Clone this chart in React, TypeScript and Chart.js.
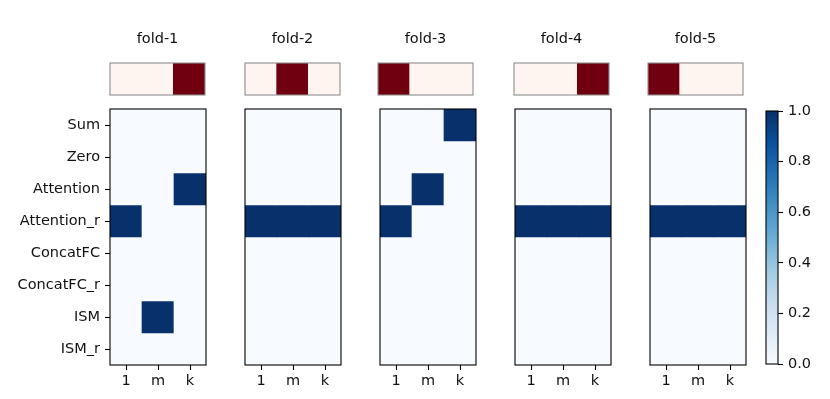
import React, { useEffect, useRef } from 'react';
import { Chart, registerables } from 'chart.js';
Chart.register(...registerables);

const rowLabels = ['Sum', 'Zero', 'Attention', 'Attention_r', 'ConcatFC', 'ConcatFC_r', 'ISM', 'ISM_r'];
const colLabels = ['1', 'm', 'k'];
const foldTitles = ['fold-1', 'fold-2', 'fold-3', 'fold-4', 'fold-5'];

const fold1 = [[0, 0, 0], [0, 0, 0], [0, 0, 1], [1, 0, 0], [0, 0, 0], [0, 0, 0], [0, 1, 0], [0, 0, 0]];
const fold2 = [[0, 0, 0], [0, 0, 0], [0, 0, 0], [1, 1, 1], [0, 0, 0], [0, 0, 0], [0, 0, 0], [0, 0, 0]];
const fold3 = [[0, 0, 1], [0, 0, 0], [0, 1, 0], [1, 0, 0], [0, 0, 0], [0, 0, 0], [0, 0, 0], [0, 0, 0]];
const fold4 = [[0, 0, 0], [0, 0, 0], [0, 0, 0], [1, 1, 1], [0, 0, 0], [0, 0, 0], [0, 0, 0], [0, 0, 0]];
const fold5 = [[0, 0, 0], [0, 0, 0], [0, 0, 0], [1, 1, 1], [0, 0, 0], [0, 0, 0], [0, 0, 0], [0, 0, 0]];
const foldMatrices = [fold1, fold2, fold3, fold4, fold5];

const strip1 = [0, 0, 1];
const strip2 = [0, 1, 0];
const strip3 = [1, 0, 0];
const strip4 = [0, 0, 1];
const strip5 = [1, 0, 0];
const strips = [strip1, strip2, strip3, strip4, strip5];

const colorbarMin = 0;
const colorbarMax = 1;
const colorbarStep = 0.2;

const BLUES = ['#f7fbff', '#deebf7', '#c6dbef', '#9ecae1', '#6baed6', '#4292c6', '#2171b5', '#08519c', '#08306b'];
const REDS = ['#fff5f0', '#fee0d2', '#fcbba1', '#fc9272', '#fb6a4a', '#ef3b2c', '#cb181d', '#a50f15', '#700010'];

function hexToRgb(h: string) {
  return [parseInt(h.slice(1, 3), 16), parseInt(h.slice(3, 5), 16), parseInt(h.slice(5, 7), 16)];
}
function cmap(stops: string[], v: number) {
  const t = Math.max(0, Math.min(1, v)) * (stops.length - 1);
  const i = Math.min(stops.length - 2, Math.floor(t));
  const f = t - i;
  const a = hexToRgb(stops[i]);
  const b = hexToRgb(stops[i + 1]);
  const c = a.map((x, k) => Math.round(x + (b[k] - x) * f));
  return `rgb(${c[0]},${c[1]},${c[2]})`;
}

const FONT = { family: 'DejaVu Sans', size: 14.5 };
const TEXT = '#111';

const boxPlugin = (color: string, lw: number) => ({
  id: 'box',
  afterDraw(chart: any) {
    const { ctx, chartArea: a } = chart;
    ctx.save();
    ctx.strokeStyle = color;
    ctx.lineWidth = lw;
    ctx.strokeRect(a.left, a.top, a.right - a.left, a.bottom - a.top);
    ctx.restore();
  },
});

// layout (pixel positions)
const mainLefts = [110, 245, 380, 515, 650];
const mainTop = 109;
const mainW = 96;
const mainH = 256;
const stripLefts = [110, 245, 378, 514, 648];
const stripTop = 63;
const stripW = 95;
const stripH = 32;
const xAxisH = 34;
const vPad = 18;

function useChart(ref: React.RefObject<HTMLCanvasElement>, makeConfig: () => any) {
  useEffect(() => {
    if (!ref.current) return;
    const ch = new Chart(ref.current, makeConfig());
    return () => ch.destroy();
  }, []);
}

function MainPanel({ idx }: { idx: number }) {
  const ref = useRef<HTMLCanvasElement>(null);
  const showY = idx === 0;
  const canvasLeft = showY ? 0 : mainLefts[idx] - 1;
  const canvasW = showY ? mainLefts[idx] + mainW + 1 : mainW + 2;
  const canvasTop = mainTop - vPad;
  const canvasH = mainH + vPad + xAxisH;
  useChart(ref, () => {
    const mat = foldMatrices[idx];
    return {
      type: 'bar',
      data: {
        labels: colLabels,
        datasets: rowLabels.map((r, ri) => ({
          label: r,
          data: colLabels.map(() => 1),
          backgroundColor: mat[ri].map((v) => cmap(BLUES, v)),
          borderWidth: 0,
          barPercentage: 1,
          categoryPercentage: 1,
        })),
      },
      options: {
        animation: false,
        responsive: false,
        maintainAspectRatio: false,
        layout: { padding: { top: vPad, right: 1, left: showY ? 0 : 1, bottom: 0 } },
        plugins: { legend: { display: false }, tooltip: { enabled: false } },
        scales: {
          x: {
            type: 'category',
            stacked: true,
            offset: true,
            grid: { display: true, drawOnChartArea: false, drawTicks: true, tickLength: 5, tickColor: '#000', tickWidth: 1.1, offset: false },
            border: { display: false },
            ticks: { color: TEXT, padding: 3, font: FONT, maxRotation: 0 },
            afterFit: (s: any) => { s.height = xAxisH; },
          },
          y: {
            type: 'linear',
            stacked: true,
            min: 0,
            max: rowLabels.length,
            reverse: true,
            display: showY,
            afterBuildTicks: (s: any) => { s.ticks = rowLabels.map((_, k) => ({ value: k + 0.5 })); },
            grid: { display: true, drawOnChartArea: false, drawTicks: true, tickLength: 5, tickColor: '#000', tickWidth: 1.1 },
            border: { display: false },
            ticks: { color: TEXT, padding: 5, font: FONT, callback: (_v: any, i: number) => rowLabels[i] },
            afterFit: (s: any) => { if (showY) s.width = mainLefts[0]; },
          },
        },
      },
      plugins: [boxPlugin('#000', 1.1)],
    };
  });
  return (
    <canvas ref={ref} width={canvasW} height={canvasH}
      style={{ position: 'absolute', left: canvasLeft, top: canvasTop, width: canvasW, height: canvasH }} />
  );
}

function StripPanel({ idx }: { idx: number }) {
  const ref = useRef<HTMLCanvasElement>(null);
  const canvasTop = 24;
  const canvasLeft = stripLefts[idx] - 1;
  const canvasW = stripW + 2;
  const canvasH = stripTop + stripH + 1 - canvasTop;
  useChart(ref, () => ({
    type: 'bar',
    data: {
      labels: colLabels,
      datasets: [{
        data: colLabels.map(() => 1),
        backgroundColor: strips[idx].map((v) => cmap(REDS, v)),
        borderWidth: 0,
        barPercentage: 1,
        categoryPercentage: 1,
      }],
    },
    options: {
      animation: false,
      responsive: false,
      maintainAspectRatio: false,
      layout: { padding: { top: 0, right: 1, left: 1, bottom: 1 } },
      plugins: {
        legend: { display: false },
        tooltip: { enabled: false },
        title: {
          display: true,
          text: foldTitles[idx],
          color: TEXT,
          font: { ...FONT, weight: 'normal', lineHeight: 1.2 },
          padding: { top: 7, bottom: stripTop - canvasTop - 7 - FONT.size * 1.2 },
        },
      },
      scales: {
        x: { type: 'category', display: false, offset: true },
        y: { type: 'linear', display: false, min: 0, max: 1 },
      },
    },
    plugins: [boxPlugin('#8c8c8c', 1.1)],
  }));
  return (
    <canvas ref={ref} width={canvasW} height={canvasH}
      style={{ position: 'absolute', left: canvasLeft, top: canvasTop, width: canvasW, height: canvasH }} />
  );
}

function Colorbar() {
  const ref = useRef<HTMLCanvasElement>(null);
  const barLeft = 766;
  const barW = 12;
  const barTop = 111;
  const barBottom = 364;
  const pad = vPad;
  const canvasLeft = barLeft - 1;
  const canvasW = 830 - canvasLeft;
  const canvasTop = barTop - pad;
  const canvasH = barBottom - barTop + 2 * pad;
  useChart(ref, () => ({
    type: 'bar',
    data: {
      labels: ['cb'],
      datasets: [{
        data: [colorbarMax],
        backgroundColor: (c: any) => {
          const ca = c.chart.chartArea;
          if (!ca) return BLUES[4];
          const g = c.chart.ctx.createLinearGradient(0, ca.bottom, 0, ca.top);
          BLUES.forEach((col, i) => g.addColorStop(i / (BLUES.length - 1), col));
          return g;
        },
        borderWidth: 0,
        barPercentage: 1,
        categoryPercentage: 1,
      }],
    },
    options: {
      animation: false,
      responsive: false,
      maintainAspectRatio: false,
      layout: { padding: { top: pad, bottom: pad, left: 1, right: 0 } },
      plugins: { legend: { display: false }, tooltip: { enabled: false } },
      scales: {
        x: { type: 'category', display: false, offset: true },
        y: {
          type: 'linear',
          position: 'right',
          min: colorbarMin,
          max: colorbarMax,
          grid: { display: true, drawOnChartArea: false, drawTicks: true, tickLength: 5, tickColor: '#000', tickWidth: 1.1 },
          border: { display: false },
          ticks: { stepSize: colorbarStep, color: TEXT, padding: 5, font: FONT, callback: (v: any) => Number(v).toFixed(1) },
          afterFit: (s: any) => { s.width = canvasW - 1 - barW; },
        },
      },
    },
    plugins: [boxPlugin('#000', 1.1)],
  }));
  return (
    <canvas ref={ref} width={canvasW} height={canvasH}
      style={{ position: 'absolute', left: canvasLeft, top: canvasTop, width: canvasW, height: canvasH }} />
  );
}

export default function App() {
  return (
    <div style={{ position: 'absolute', left: 0, top: 0, width: 830, height: 399, background: '#fff', overflow: 'hidden' }}>
      {foldTitles.map((_, i) => <StripPanel key={'s' + i} idx={i} />)}
      {foldTitles.map((_, i) => <MainPanel key={'m' + i} idx={i} />)}
      <Colorbar />
    </div>
  );
}
